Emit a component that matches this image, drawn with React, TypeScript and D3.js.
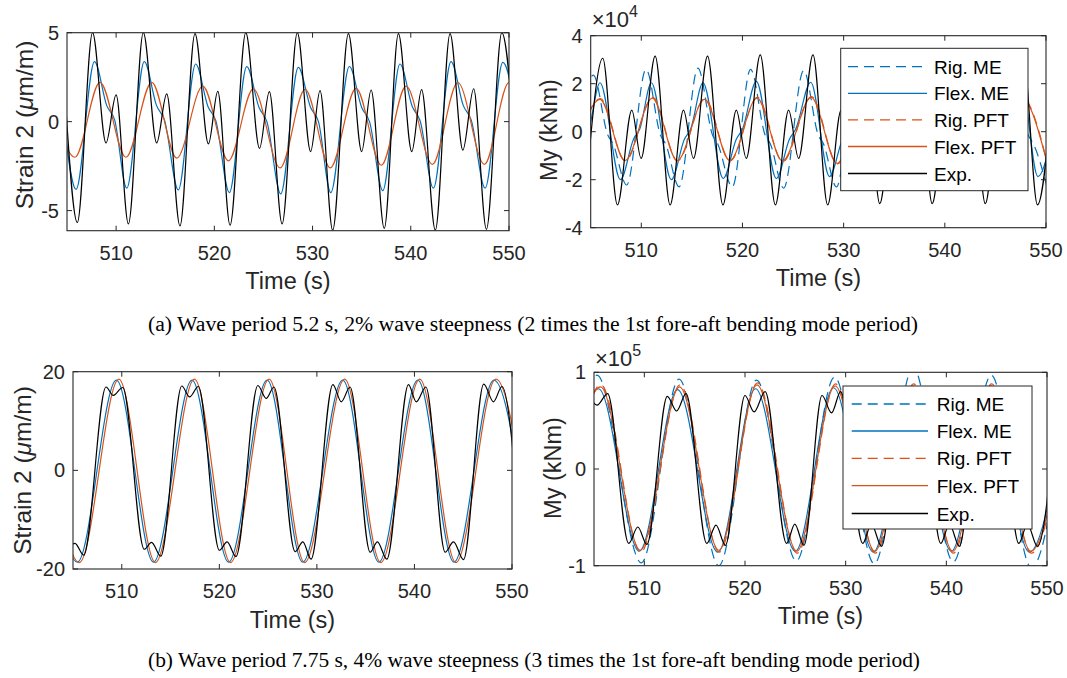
import React from "react";
import * as d3 from "d3";

type Pt = [number, number];

// ---------- shared axis data ----------
const timeDomain: [number, number] = [505, 550];
const timeTicks = [510, 520, 530, 540, 550];
const legendNames = ["Rig. ME", "Flex. ME", "Rig. PFT", "Flex. PFT", "Exp."];

// ---------- (a) left: Strain 2, wave period 5.2 s ----------
const aStrainTicks = [-5, 0, 5];
const aStrainFlexME: Pt[] = [
  [504.65, 0.1], [505.92, -3.8], [507.8, 3.37], [509.05, 0.9], [509.85, 0.1], [511.08, -3.74],
  [512.87, 3.37], [514.12, 0.9], [514.92, 0.1], [516.33, -3.84], [518.1, 3.24], [519.35, 0.85],
  [520.15, 0.05], [521.53, -3.99], [523.3, 3.09], [524.55, 0.8], [525.35, 0.0], [526.76, -4.06],
  [528.55, 3.05], [529.8, 0.8], [530.6, 0.0], [531.85, -3.99], [533.75, 3.1], [535.0, 0.8],
  [535.8, 0.0], [537.15, -3.88], [538.9, 3.24], [540.15, 0.85], [540.95, 0.05], [542.3, -3.74],
  [544.1, 3.37], [545.35, 0.9], [546.15, 0.1], [547.57, -3.74], [549.37, 3.33], [550.62, 0.9],
];
const aStrainFlexPFT: Pt[] = [
  [503.15, 2.2], [505.8, -2.0], [508.36, 2.21], [511.0, -2.0], [513.63, 2.21], [516.17, -2.05],
  [518.82, 2.0], [521.43, -2.2], [523.97, 1.84], [526.7, -2.6], [529.24, 1.82], [531.8, -2.6],
  [534.43, 1.87], [537.0, -2.45], [539.52, 2.0], [542.2, -2.4], [544.79, 2.2], [547.5, -2.4],
  [550.0, 2.2], [552.6, -2.4],
];
const aStrainExp: Pt[] = [
  [504.8, 1.5], [506.05, -5.67], [507.6, 5.0], [508.97, -1.2], [510.0, 1.5], [511.25, -5.75],
  [512.77, 5.0], [514.13, -1.2], [515.15, 1.56], [516.5, -5.86], [518.03, 4.95], [519.4, -1.25],
  [520.35, 1.7], [521.6, -5.82], [523.2, 5.0], [524.6, -1.5], [525.6, 1.69], [526.9, -5.75],
  [528.45, 5.0], [529.8, -1.68], [530.76, 1.74], [532.05, -6.1], [533.65, 4.95], [535.0, -1.68],
  [535.96, 1.78], [537.3, -6.0], [538.74, 4.95], [540.1, -1.68], [541.1, 1.8], [542.5, -6.1],
  [544.0, 4.95], [545.3, -1.6], [546.4, 1.85], [547.7, -6.05], [549.27, 5.0], [550.64, -1.6],
];

// ---------- (a) right: My (x1e4 kNm), wave period 5.2 s ----------
const aMyTicks = [-4, -2, 0, 2, 4];
const aMyRigME: Pt[] = [
  [503.36, -2.3], [505.26, 2.36], [506.7, -0.15], [507.2, -0.5], [508.56, -2.22],
  [510.47, 2.6], [511.9, -0.15], [512.4, -0.5], [513.74, -2.3],
  [515.6, 2.65], [517.05, -0.15], [517.55, -0.5], [519.0, -2.3],
  [520.8, 2.6], [522.25, -0.15], [522.75, -0.5], [524.07, -2.35],
  [526.05, 2.55], [527.5, -0.15], [528.0, -0.5], [529.3, -2.3],
  [531.2, 2.55], [532.65, -0.15], [533.15, -0.5], [534.5, -2.3],
  [536.4, 2.55], [537.85, -0.15], [538.35, -0.5], [539.7, -2.3],
  [541.6, 2.55], [543.05, -0.15], [543.55, -0.5], [544.9, -2.3],
  [546.8, 2.55], [548.25, -0.15], [548.75, -0.5], [550.1, -2.3],
];
const aMyFlexME: Pt[] = [
  [502.9, -2.0], [504.2, -0.3], [504.8, 0.1], [505.92, 2.04], [507.94, -2.0], [509.24, -0.3], [509.84, 0.1],
  [511.0, 2.04], [512.97, -2.0], [514.27, -0.3], [514.87, 0.1],
  [516.1, 2.04], [518.1, -1.95], [519.4, -0.3], [520.0, 0.1],
  [521.37, 2.1], [523.35, -1.95], [524.65, -0.3], [525.25, 0.1],
  [526.75, 2.06], [528.6, -1.87], [529.9, -0.3], [530.5, 0.1],
  [531.95, 2.05], [533.8, -1.9], [535.1, -0.3], [535.7, 0.1],
  [537.15, 2.05], [539.0, -1.9], [540.3, -0.3], [540.9, 0.1],
  [542.35, 2.05], [544.2, -1.9], [545.5, -0.3], [546.1, 0.1],
  [547.55, 2.05], [549.2, -1.87], [550.5, -0.3],
];
const aMyRigPFT: Pt[] = [
  [503.3, -1.22], [505.95, 1.38], [508.42, -1.22], [511.13, 1.43], [513.58, -1.22], [516.28, 1.38],
  [518.78, -1.22], [521.48, 1.43], [523.98, -1.25], [526.83, 1.46], [529.39, -1.34], [532.03, 1.43],
  [534.53, -1.3], [537.23, 1.43], [539.73, -1.3], [542.43, 1.43], [544.93, -1.3], [547.63, 1.43],
  [550.13, -1.3],
];
const aMyFlexPFT: Pt[] = [
  [503.3, -1.2], [505.92, 1.35], [508.39, -1.2], [511.1, 1.4], [513.55, -1.2], [516.25, 1.35],
  [518.75, -1.2], [521.45, 1.4], [523.95, -1.22], [526.8, 1.43], [529.36, -1.32], [532.0, 1.4],
  [534.5, -1.28], [537.2, 1.4], [539.7, -1.28], [542.4, 1.4], [544.9, -1.28], [547.6, 1.4],
  [550.1, -1.28],
];
const aMyExp: Pt[] = [
  [504.8, -1.11], [506.19, 3.06], [507.64, -3.05], [509.06, 0.9], [509.98, -1.11],
  [511.37, 3.15], [512.85, -3.05], [514.17, 0.9], [515.16, -1.11],
  [516.55, 3.15], [518.07, -3.05], [519.39, 0.9], [520.38, -1.11],
  [521.76, 3.2], [523.25, -3.05], [524.56, 0.9], [525.55, -1.11],
  [526.97, 3.2], [528.42, -3.05], [529.75, 0.9], [530.75, -1.1],
  [532.15, 3.15], [533.57, -3.0], [534.9, 0.9], [535.9, -1.1],
  [537.35, 3.15], [538.75, -3.0], [540.1, 0.9], [541.1, -1.1],
  [542.55, 3.15], [544.0, -3.0], [545.3, 0.9], [546.3, -1.1],
  [547.75, 3.15], [549.16, -3.05], [550.5, 0.9],
];

// ---------- (b) left: Strain 2, wave period 7.75 s ----------
const bStrainTicks = [-20, 0, 20];
const bStrainFlexME: Pt[] = [
  [501.6, 18.3], [505.45, -18.6], [509.45, 18.3], [513.25, -18.6], [517.2, 18.3], [520.95, -18.6],
  [524.9, 18.3], [528.55, -18.6], [532.65, 18.3], [536.35, -18.6], [540.35, 18.3], [544.05, -18.6],
  [548.15, 18.3], [551.9, -18.6],
];
const bStrainFlexPFT: Pt[] = [
  [501.8, 18.5], [505.65, -18.7], [509.7, 18.5], [513.45, -18.7], [517.45, 18.5], [521.15, -18.7],
  [525.1, 18.5], [528.75, -18.7], [532.85, 18.5], [536.55, -18.7], [540.55, 18.5], [544.25, -18.7],
  [548.35, 18.5], [552.1, -18.7],
];
const bStrainExp: Pt[] = [
  [504.45, -15.8], [505.2, -14.8], [506.1, -17.2],
  [508.38, 16.9], [509.13, 15.2], [510.1, 16.8], [512.3, -16.0], [513.05, -14.6], [514.0, -17.4],
  [516.15, 17.1], [516.95, 14.9], [517.85, 17.0], [520.0, -16.2], [520.8, -14.5], [521.7, -17.5],
  [523.95, 17.2], [524.8, 14.6], [525.6, 16.9], [527.77, -16.5], [528.56, -14.5], [529.4, -18.0],
  [531.64, 17.4], [532.5, 13.9], [533.4, 16.9], [535.46, -16.6], [536.2, -14.5], [537.17, -18.0],
  [539.39, 17.4], [540.18, 13.9], [541.17, 16.9], [543.15, -16.6], [544.0, -14.5], [545.03, -18.1],
  [547.1, 17.5], [548.1, 13.9], [548.97, 17.0], [550.95, -16.6],
];

// ---------- (b) right: My (x1e5 kNm), wave period 7.75 s ----------
const bMyTicks = [-1, 0, 1];
const bMyRigME: Pt[] = [
  [501.5, -0.97], [505.3, 0.97], [509.7, -0.97], [513.45, 0.93], [517.4, -1.0], [521.15, 0.92],
  [525.1, -0.95], [528.9, 0.95], [532.85, -0.98], [536.7, 1.05], [540.7, -0.96], [544.45, 0.97],
  [548.45, -1.02], [552.2, 0.95],
];
const bMyFlexME: Pt[] = [
  [501.5, -0.85], [505.45, 0.83], [509.5, -0.85], [513.3, 0.82], [517.3, -0.86], [521.05, 0.83],
  [525.0, -0.85], [528.8, 0.84], [532.75, -0.86], [536.55, 0.84], [540.5, -0.85], [544.3, 0.84],
  [548.25, -0.86], [552.1, 0.84],
];
const bMyRigPFT: Pt[] = [
  [501.7, -0.86], [505.7, 0.87], [509.65, -0.86], [513.55, 0.87], [517.45, -0.86], [521.25, 0.89],
  [525.2, -0.87], [529.0, 0.88], [532.95, -0.87], [536.75, 0.88], [540.7, -0.87], [544.5, 0.88],
  [548.45, -0.87], [552.35, 0.88],
];
const bMyFlexPFT: Pt[] = [
  [501.7, -0.84], [505.65, 0.85], [509.6, -0.84], [513.5, 0.85], [517.4, -0.84], [521.2, 0.87],
  [525.15, -0.85], [528.95, 0.86], [532.9, -0.85], [536.7, 0.86], [540.65, -0.85], [544.45, 0.86],
  [548.4, -0.85], [552.3, 0.86],
];
const bMyExp: Pt[] = [
  [504.55, 0.75], [505.3, 0.66], [506.35, 0.78], [508.45, -0.77], [509.35, -0.6], [510.25, -0.78],
  [512.28, 0.75], [513.21, 0.6], [514.14, 0.78], [516.2, -0.77], [517.12, -0.58], [518.05, -0.79],
  [520.0, 0.76], [520.9, 0.59], [522.0, 0.8], [524.13, -0.77], [524.95, -0.57], [525.85, -0.79],
  [527.65, 0.76], [528.6, 0.58], [529.5, 0.8], [531.7, -0.77], [532.55, -0.57], [533.57, -0.8],
  [535.5, 0.76], [536.4, 0.58], [537.4, 0.8], [539.45, -0.77], [540.3, -0.57], [541.3, -0.8],
  [543.25, 0.76], [544.15, 0.58], [545.15, 0.8], [547.2, -0.77], [548.05, -0.57], [549.05, -0.8],
  [551.0, 0.76],
];

const captionA = "(a) Wave period 5.2 s, 2% wave steepness (2 times the 1st fore-aft bending mode period)";
const captionB = "(b) Wave period 7.75 s, 4% wave steepness (3 times the 1st fore-aft bending mode period)";

// ---------- styling ----------
const BLUE = "#0072BD";
const ORANGE = "#D95319";
const BLACK = "#000000";
const AXIS = "#262626";
const SANS = "'Liberation Sans', Arial, Helvetica, sans-serif";
const SERIF = "'Liberation Serif', 'Times New Roman', serif";
const DASH = "10,6";

interface Series { name: string; data: Pt[]; color: string; dashed: boolean; }
interface PanelDef {
  id: string;
  left: number; right: number; top: number; bottom: number;
  yDomain: [number, number];
  yTicks: number[];
  yLabel: "strain" | "my";
  yLabelX: number;
  yLabelY: number;
  exponent?: string;
  expY?: number;
  series: Series[];
  legend?: { x0: number; y0: number; x1: number; y1: number; rows: number[]; lx0: number; lx1: number; tx: number };
}

const panels: PanelDef[] = [
  {
    id: "aL", left: 67, right: 509, top: 32.7, bottom: 230.7, yDomain: [-6.13, 5], yTicks: aStrainTicks,
    yLabel: "strain", yLabelX: 33, yLabelY: 125,
    series: [
      { name: legendNames[1], data: aStrainFlexME, color: BLUE, dashed: false },
      { name: legendNames[3], data: aStrainFlexPFT, color: ORANGE, dashed: false },
      { name: legendNames[4], data: aStrainExp, color: BLACK, dashed: false },
    ],
  },
  {
    id: "aR", left: 590.7, right: 1046, top: 35.7, bottom: 227.7, yDomain: [-4, 4], yTicks: aMyTicks,
    yLabel: "my", yLabelX: 557, yLabelY: 130, exponent: "4", expY: 27,
    series: [
      { name: legendNames[0], data: aMyRigME, color: BLUE, dashed: true },
      { name: legendNames[1], data: aMyFlexME, color: BLUE, dashed: false },
      { name: legendNames[2], data: aMyRigPFT, color: ORANGE, dashed: true },
      { name: legendNames[3], data: aMyFlexPFT, color: ORANGE, dashed: false },
      { name: legendNames[4], data: aMyExp, color: BLACK, dashed: false },
    ],
    legend: { x0: 840.7, y0: 48.3, x1: 1028, y1: 190.7, rows: [66.7, 93.3, 119.8, 146.5, 173.5], lx0: 848, lx1: 927, tx: 934 },
  },
  {
    id: "bL", left: 73, right: 512, top: 371.7, bottom: 569, yDomain: [-20, 20], yTicks: bStrainTicks,
    yLabel: "strain", yLabelX: 31, yLabelY: 470.5,
    series: [
      { name: legendNames[1], data: bStrainFlexME, color: BLUE, dashed: false },
      { name: legendNames[3], data: bStrainFlexPFT, color: ORANGE, dashed: false },
      { name: legendNames[4], data: bStrainExp, color: BLACK, dashed: false },
    ],
  },
  {
    id: "bR", left: 594, right: 1047, top: 372.3, bottom: 565.7, yDomain: [-1, 1], yTicks: bMyTicks,
    yLabel: "my", yLabelX: 561, yLabelY: 468, exponent: "5", expY: 366,
    series: [
      { name: legendNames[0], data: bMyRigME, color: BLUE, dashed: true },
      { name: legendNames[1], data: bMyFlexME, color: BLUE, dashed: false },
      { name: legendNames[2], data: bMyRigPFT, color: ORANGE, dashed: true },
      { name: legendNames[3], data: bMyFlexPFT, color: ORANGE, dashed: false },
      { name: legendNames[4], data: bMyExp, color: BLACK, dashed: false },
    ],
    legend: { x0: 843, y0: 386, x1: 1032, y1: 529, rows: [404, 431, 458.3, 485.7, 513.5], lx0: 851.7, lx1: 928, tx: 936.7 },
  },
];

function Panel({ p }: { p: PanelDef }) {
  const x = d3.scaleLinear().domain(timeDomain).range([p.left, p.right]);
  const y = d3.scaleLinear().domain(p.yDomain).range([p.bottom, p.top]);
  const line = d3.line<Pt>().x((d) => x(d[0])).y((d) => y(d[1])).curve(d3.curveMonotoneX);
  const tl = 5;
  const cx = (p.left + p.right) / 2;
  const legendSeries = p.legend ? p.series : [];
  return (
    <g>
      <defs>
        <clipPath id={`clip-${p.id}`}>
          <rect x={p.left} y={p.top} width={p.right - p.left} height={p.bottom - p.top} />
        </clipPath>
      </defs>
      <rect x={p.left} y={p.top} width={p.right - p.left} height={p.bottom - p.top} fill="#fff" />
      <g clipPath={`url(#clip-${p.id})`}>
        {p.series.map((s) => (
          <path key={s.name} d={line(s.data) || ""} fill="none" stroke={s.color} strokeWidth={1.2}
            strokeDasharray={s.dashed ? DASH : undefined} strokeLinejoin="round" />
        ))}
      </g>
      {timeTicks.map((t) => (
        <g key={`xt${t}`} stroke={AXIS} strokeWidth={1}>
          <line x1={x(t)} x2={x(t)} y1={p.bottom} y2={p.bottom - tl} />
          <line x1={x(t)} x2={x(t)} y1={p.top} y2={p.top + tl} />
        </g>
      ))}
      {p.yTicks.map((v) => (
        <g key={`yt${v}`} stroke={AXIS} strokeWidth={1}>
          <line x1={p.left} x2={p.left + tl} y1={y(v)} y2={y(v)} />
          <line x1={p.right} x2={p.right - tl} y1={y(v)} y2={y(v)} />
        </g>
      ))}
      <rect x={p.left} y={p.top} width={p.right - p.left} height={p.bottom - p.top} fill="none" stroke={AXIS} strokeWidth={1.1} />
      {timeTicks.map((t) => (
        <text key={`xl${t}`} x={x(t)} y={p.bottom + 29} textAnchor="middle" fontFamily={SANS} fontSize={20} fill={AXIS}>{t}</text>
      ))}
      {p.yTicks.map((v) => (
        <text key={`yl${v}`} x={p.left - 8} y={y(v) + 7} textAnchor="end" fontFamily={SANS} fontSize={20} fill={AXIS}>{v}</text>
      ))}
      <text x={cx} y={p.bottom + 58.5} textAnchor="middle" fontFamily={SANS} fontSize={23.5} fill={AXIS}>Time (s)</text>
      <text transform={`translate(${p.yLabelX},${p.yLabelY}) rotate(-90)`} textAnchor="middle" fontFamily={SANS}
        fontSize={p.yLabel === "strain" ? 24.5 : 23.5} fill={AXIS}>
        {p.yLabel === "strain" ? (
          <>Strain 2 (<tspan fontStyle="italic">μ</tspan>m/m)</>
        ) : (
          <>My (kNm)</>
        )}
      </text>
      {p.exponent && (
        <text x={p.left + 1} y={p.expY} fontFamily={SANS} fontSize={22} fill={AXIS}>
          ×10<tspan fontSize={16} dy={-10}>{p.exponent}</tspan>
        </text>
      )}
      {p.legend && (
        <g>
          <rect x={p.legend.x0} y={p.legend.y0} width={p.legend.x1 - p.legend.x0} height={p.legend.y1 - p.legend.y0}
            fill="#fff" stroke={AXIS} strokeWidth={1} />
          {legendSeries.map((s, i) => (
            <g key={`lg${s.name}`}>
              <line x1={p.legend!.lx0} x2={p.legend!.lx1} y1={p.legend!.rows[i]} y2={p.legend!.rows[i]}
                stroke={s.color} strokeWidth={1.3} strokeDasharray={s.dashed ? DASH : undefined} />
              <text x={p.legend!.tx} y={p.legend!.rows[i] + 7} fontFamily={SANS} fontSize={19} fill="#000">{s.name}</text>
            </g>
          ))}
        </g>
      )}
    </g>
  );
}

export default function App() {
  return (
    <svg width={1067} height={678} viewBox="0 0 1067 678"
      style={{ position: "absolute", left: 0, top: 0, background: "#fff" }}>
      <rect x={0} y={0} width={1067} height={678} fill="#fff" />
      {panels.map((p) => <Panel key={p.id} p={p} />)}
      <text x={533} y={331} textAnchor="middle" fontFamily={SERIF} fontSize={20} fill="#000"
        textLength={770} lengthAdjust="spacingAndGlyphs">{captionA}</text>
      <text x={534} y={667} textAnchor="middle" fontFamily={SERIF} fontSize={20} fill="#000"
        textLength={772} lengthAdjust="spacingAndGlyphs">{captionB}</text>
    </svg>
  );
}
